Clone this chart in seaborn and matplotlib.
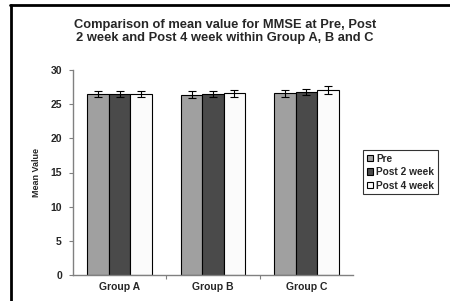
import pandas as pd
import numpy as np
import matplotlib
matplotlib.use("Agg")
import matplotlib.pyplot as plt
from matplotlib.lines import Line2D
import seaborn as sns

groups = ['Group A', 'Group B', 'Group C']
times = ['Pre', 'Post 2 week', 'Post 4 week']
pre = [26.5, 26.4, 26.6]
post2 = [26.5, 26.5, 26.8]
post4 = [26.5, 26.6, 27.1]
err_pre = [0.5, 0.55, 0.5]
err_post2 = [0.5, 0.5, 0.4]
err_post4 = [0.5, 0.5, 0.6]
colors = ['#a0a0a0', '#4a4a4a', '#fbfbfb']

rows = []
for t, vals, errs in zip(times, [pre, post2, post4], [err_pre, err_post2, err_post4]):
    for g, v, e in zip(groups, vals, errs):
        rows.append({'group': g, 'time': t, 'mean': v, 'err': e})
df = pd.DataFrame(rows)

sns.set_style('white')
plt.rcParams['font.family'] = ['Liberation Sans', 'DejaVu Sans']
plt.rcParams['font.weight'] = 'bold'

fig = plt.figure(figsize=(4.5, 3.01), dpi=100)
ax = fig.add_axes([73 / 450, 26 / 301, 280 / 450, 205 / 301])

sns.barplot(data=df, x='group', y='mean', hue='time', order=groups, hue_order=times,
            palette=colors, width=0.69, errorbar=None, edgecolor='black',
            linewidth=0.8, saturation=1, ax=ax)

# error bars on each bar
for container, t in zip(ax.containers, times):
    sub = df[df['time'] == t].set_index('group').loc[groups]
    xs = [p.get_x() + p.get_width() / 2 for p in container.patches]
    ax.errorbar(xs, sub['mean'], yerr=sub['err'], fmt='none', ecolor='black',
                elinewidth=0.8, capsize=3, capthick=0.8)

ax.set_ylim(0, 30)
ax.set_xlim(-0.5, 2.5)
ax.set_yticks(range(0, 31, 5))
ax.set_xticks([0.5, 1.5], minor=True)
ax.tick_params(axis='x', which='major', length=0, labelsize=7.5, pad=5)
ax.tick_params(axis='x', which='minor', length=3, width=0.8, color='#808080', direction='out', bottom=True)
ax.tick_params(axis='y', length=3, width=0.8, color='#808080', direction='out', left=True, labelsize=7.5, pad=5)
for lab in ax.get_xticklabels() + ax.get_yticklabels():
    lab.set_fontweight('bold')

sns.despine(ax=ax)
for side in ['left', 'bottom']:
    ax.spines[side].set_color('#808080')
    ax.spines[side].set_linewidth(1.0)

ax.set_xlabel('')
ax.set_ylabel('Mean Value', fontsize=6.5, fontweight='bold', labelpad=7)

fig.text(0.5, 1 - 31.5 / 301, 'Comparison of mean value for MMSE at Pre, Post\n2 week and Post 4 week within Group A, B and C',
         ha='center', va='center', fontsize=9.3, fontweight='bold', linespacing=1.05)

handles, labels = ax.get_legend_handles_labels()
ax.legend_.remove()
leg = fig.legend(handles, labels, loc='upper left', bbox_to_anchor=(363 / 450, 1 - 150 / 301),
                 prop={'weight': 'bold', 'size': 7.3}, frameon=True, fancybox=False,
                 handlelength=0.6, handleheight=0.6, handletextpad=0.35, labelspacing=0.35,
                 borderpad=0.35, borderaxespad=0)
leg.get_frame().set_edgecolor('black')
leg.get_frame().set_linewidth(0.8)

# outer border (left and top visible)
fig.add_artist(Line2D([10.5 / 450, 10.5 / 450], [0, 1 - 5 / 301], color='black', lw=2, transform=fig.transFigure))
fig.add_artist(Line2D([10 / 450, 1], [1 - 5 / 301, 1 - 5 / 301], color='black', lw=2, transform=fig.transFigure))

fig.savefig('out.png', dpi=100)
